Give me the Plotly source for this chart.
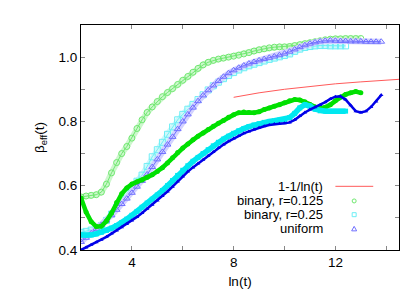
import plotly.graph_objects as go

# ---- data ----
X = [2.0, 2.2, 2.4, 2.6, 2.8, 3.0, 3.2, 3.4, 3.6, 3.8, 4.0, 4.2, 4.4, 4.6, 4.8,
     5.0, 5.2, 5.4, 5.6, 5.8, 6.0, 6.2, 6.4, 6.6, 6.8, 7.0, 7.2, 7.4, 7.6, 7.8,
     8.0, 8.2, 8.4, 8.6, 8.8, 9.0, 9.2, 9.4, 9.6, 9.8, 10.0, 10.2, 10.4, 10.6, 10.8,
     11.0, 11.2, 11.4, 11.6, 11.8, 12.0, 12.2, 12.4, 12.6, 12.8, 13.0, 13.2, 13.4, 13.6, 13.8]

ref_x = [8.0, 9.0, 10.0, 11.0, 12.0, 13.0, 14.0, 14.5]
ref_y = [0.875, 0.889, 0.900, 0.909, 0.917, 0.923, 0.929, 0.931]

green_upper = [0.565, 0.568, 0.570, 0.572, 0.580, 0.605, 0.640, 0.672, 0.700, 0.722,
               0.748, 0.778, 0.805, 0.828, 0.845, 0.862, 0.877, 0.890, 0.902, 0.915,
               0.928, 0.940, 0.953, 0.965, 0.976, 0.984, 0.990, 0.994, 0.997, 1.000,
               1.003, 1.006, 1.010, 1.014, 1.019, 1.023, 1.026, 1.029, 1.031, 1.032,
               1.032, 1.033, 1.036, 1.039, 1.042, 1.045, 1.048, 1.051, 1.054, 1.056,
               1.057, 1.057, 1.058, 1.058, 1.058, 1.058]

cyan_upper = [0.455, 0.458, 0.462, 0.466, 0.476, 0.492, 0.512, 0.533, 0.555, 0.575,
              0.595, 0.614, 0.633, 0.660, 0.690, 0.712, 0.735, 0.760, 0.783, 0.805,
              0.822, 0.838, 0.853, 0.868, 0.883, 0.898, 0.911, 0.922, 0.933, 0.943,
              0.952, 0.960, 0.967, 0.973, 0.978, 0.983, 0.988, 0.993, 0.997, 1.001,
              1.005, 1.010, 1.018, 1.025, 1.030, 1.033, 1.035, 1.036, 1.036, 1.035,
              1.035, 1.035, 1.035]

blue_upper = [0.425, 0.438, 0.452, 0.466, 0.478, 0.492, 0.508, 0.525, 0.543, 0.560,
              0.578, 0.597, 0.615, 0.635, 0.658, 0.682, 0.705, 0.728, 0.752, 0.776,
              0.800, 0.822, 0.843, 0.863, 0.881, 0.897, 0.912, 0.926, 0.939, 0.950,
              0.959, 0.967, 0.974, 0.980, 0.985, 0.990, 0.994, 0.998, 1.002, 1.006,
              1.011, 1.017, 1.024, 1.031, 1.037, 1.042, 1.046, 1.049, 1.051, 1.052,
              1.051, 1.050, 1.050, 1.049, 1.049, 1.049, 1.048, 1.048, 1.048, 1.048]

green_lower = [0.562, 0.518, 0.488, 0.473, 0.474, 0.490, 0.515, 0.548, 0.575, 0.593,
               0.605, 0.612, 0.618, 0.626, 0.634, 0.644, 0.656, 0.671, 0.687, 0.703,
               0.717, 0.730, 0.743, 0.754, 0.764, 0.775, 0.785, 0.794, 0.803, 0.813,
               0.821, 0.827, 0.829, 0.828, 0.827, 0.830, 0.837, 0.842, 0.847, 0.852,
               0.858, 0.864, 0.868, 0.867, 0.861, 0.853, 0.845, 0.841, 0.844, 0.852,
               0.864, 0.876, 0.884, 0.889, 0.893, 0.889]

cyan_lower = [0.447, 0.446, 0.447, 0.450, 0.455, 0.461, 0.468, 0.476, 0.485, 0.496,
              0.508, 0.520, 0.533, 0.546, 0.558, 0.571, 0.585, 0.600, 0.616, 0.632,
              0.648, 0.662, 0.676, 0.688, 0.700, 0.712, 0.724, 0.735, 0.745, 0.754,
              0.763, 0.771, 0.778, 0.784, 0.789, 0.793, 0.797, 0.800, 0.802, 0.804,
              0.806, 0.812, 0.825, 0.842, 0.852, 0.848, 0.838, 0.833, 0.832, 0.832,
              0.832, 0.832, 0.832]

blue_lower = [0.400, 0.408, 0.416, 0.424, 0.432, 0.441, 0.451, 0.461, 0.471, 0.481,
              0.492, 0.503, 0.515, 0.528, 0.541, 0.554, 0.568, 0.582, 0.597, 0.613,
              0.629, 0.644, 0.657, 0.669, 0.681, 0.693, 0.705, 0.717, 0.728, 0.738,
              0.747, 0.755, 0.763, 0.769, 0.775, 0.780, 0.785, 0.789, 0.792, 0.793,
              0.794, 0.797, 0.805, 0.817, 0.828, 0.837, 0.844, 0.851, 0.860, 0.870,
              0.877, 0.878, 0.868, 0.850, 0.832, 0.828, 0.832, 0.845, 0.862, 0.882]

legend_labels = ["1-1/ln(t)", "binary, r=0.125", "binary, r=0.25", "uniform"]

# ---- styles ----
C_RED = "#ff5a5a"
C_G_UP, C_C_UP, C_B_UP = "#6fe86f", "#6ceef5", "#7070ff"
BAND_G, BAND_C, BAND_B = "#cdf7cd", "#cdf8fb", "#d2d2ff"
C_G_LO, C_C_LO, C_B_LO = "#00e000", "#00e8f0", "#0000e8"
FONT = "Liberation Sans, Arial, sans-serif"

fig = go.Figure()

fig.add_trace(go.Scatter(x=ref_x, y=ref_y, mode="lines",
                         line=dict(color=C_RED, width=1), showlegend=False))


def open_series(y, symbol, col, band):
    xs = X[:len(y)]
    # light band joining the points, then the open markers on top
    fig.add_trace(go.Scatter(x=xs, y=y, mode="lines", line=dict(color=band, width=6),
                             showlegend=False, hoverinfo="skip"))
    fig.add_trace(go.Scatter(x=xs, y=y, mode="lines+markers",
                             line=dict(color=col, width=1),
                             marker=dict(symbol=symbol, size=6, color=col,
                                         line=dict(width=1, color=col)),
                             showlegend=False))


open_series(green_upper, "circle-open", C_G_UP, BAND_G)
open_series(cyan_upper, "square-open", C_C_UP, BAND_C)
open_series(blue_upper, "triangle-up-open", C_B_UP, BAND_B)

fig.add_trace(go.Scatter(x=X[:len(green_lower)], y=green_lower, mode="lines+markers",
                         line=dict(color=C_G_LO, width=4.5),
                         marker=dict(symbol="circle", size=5, color=C_G_LO), showlegend=False))
fig.add_trace(go.Scatter(x=X[:len(cyan_lower)], y=cyan_lower, mode="lines+markers",
                         line=dict(color=C_C_LO, width=5.5),
                         marker=dict(symbol="square", size=5, color=C_C_LO), showlegend=False))
fig.add_trace(go.Scatter(x=X[:len(blue_lower)], y=blue_lower, mode="lines+markers",
                         line=dict(color=C_B_LO, width=2.5),
                         marker=dict(symbol="triangle-up", size=4, color=C_B_LO), showlegend=False))

# ---- gnuplot-style legend (text right-aligned, sample on the right) ----
rows_y = [0.283, 0.218, 0.157, 0.094]
for lab, yy in zip(legend_labels, rows_y):
    fig.add_annotation(x=0.768, y=yy, xref="paper", yref="paper", text=lab,
                       showarrow=False, xanchor="right", yanchor="middle",
                       font=dict(family=FONT, size=13, color="black"))

shapes = [
    dict(type="line", xref="paper", yref="paper", x0=0.80, x1=0.919, y0=rows_y[0], y1=rows_y[0],
         line=dict(color=C_RED, width=1)),
    dict(type="circle", xref="paper", yref="paper", xsizemode="pixel", ysizemode="pixel",
         xanchor=0.859, yanchor=rows_y[1], x0=-2, x1=2, y0=-2, y1=2,
         line=dict(color=C_G_UP, width=1)),
    dict(type="rect", xref="paper", yref="paper", xsizemode="pixel", ysizemode="pixel",
         xanchor=0.859, yanchor=rows_y[2], x0=-2, x1=2, y0=-2, y1=2,
         line=dict(color=C_C_UP, width=1)),
    dict(type="path", xref="paper", yref="paper", xsizemode="pixel", ysizemode="pixel",
         xanchor=0.859, yanchor=rows_y[3], path="M -2.5 -2 L 2.5 -2 L 0 2.5 Z",
         line=dict(color=C_B_UP, width=1)),
]

fig.update_layout(
    width=415, height=291,
    margin=dict(l=73, r=24, t=17, b=44),
    paper_bgcolor="white", plot_bgcolor="white",
    font=dict(family=FONT, size=13, color="black"),
    shapes=shapes,
    showlegend=False,
)

axis_common = dict(showline=True, linecolor="black", linewidth=1, mirror="ticks",
                   ticks="inside", ticklen=4, tickcolor="#888888", showgrid=False,
                   zeroline=False, tickfont=dict(family=FONT, size=13.5))

fig.update_xaxes(range=[2, 14.5], tick0=0, dtick=4,
                 minor=dict(dtick=2, ticks="inside", ticklen=4, tickcolor="#888888"),
                 title=dict(text="ln(t)", font=dict(family=FONT, size=13.5), standoff=7),
                 **axis_common)
fig.update_yaxes(range=[0.4, 1.1], tick0=0, dtick=0.2, tickformat=".1f",
                 minor=dict(dtick=0.1, ticks="inside", ticklen=4, tickcolor="#888888"),
                 title=dict(text="β<sub>eff</sub>(t)", font=dict(family=FONT, size=13.5), standoff=10),
                 **axis_common)

fig.write_html("out.html")
